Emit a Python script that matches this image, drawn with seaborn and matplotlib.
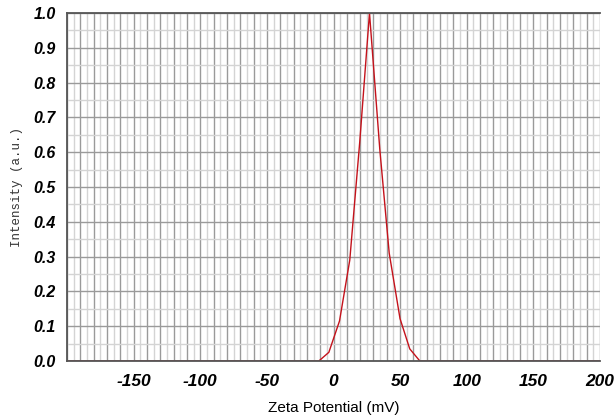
import pandas as pd
import matplotlib.pyplot as plt
import seaborn as sns
from matplotlib.ticker import MultipleLocator

# zeta potential distribution
zeta_mv = [-200, -11, -3.5, 4.5, 12.2, 19.7, 27.0, 34.7, 41.8, 49.9, 57.2, 64.8, 200]
intensity = [0.0, 0.0, 0.025, 0.115, 0.29, 0.63, 1.0, 0.61, 0.31, 0.122, 0.035, 0.0, 0.0]

df = pd.DataFrame({"zeta": zeta_mv, "intensity": intensity})

sns.set_style("white")

fig = plt.figure(figsize=(6.15, 4.19), dpi=100)
ax = fig.add_axes([0.109, 0.1384, 0.8666, 0.8306])

sns.lineplot(data=df, x="zeta", y="intensity", color="#c4121b", linewidth=1.0, ax=ax, zorder=2)

ax.set_xlim(-200, 200)
ax.set_ylim(0, 1.0)

ax.xaxis.set_major_locator(MultipleLocator(50))
ax.xaxis.set_minor_locator(MultipleLocator(5))
ax.yaxis.set_major_locator(MultipleLocator(0.1))
ax.yaxis.set_minor_locator(MultipleLocator(0.05))

# grid: darker every 10 mV / 0.1, lighter in between
for v in range(-200, 201, 5):
    c = "#9a9a9a" if v % 10 == 0 else "#d4d4d4"
    ax.axvline(v, color=c, linewidth=1.0, zorder=0)
for i in range(21):
    c = "#9a9a9a" if i % 2 == 0 else "#d4d4d4"
    ax.axhline(i * 0.05, color=c, linewidth=1.0, zorder=0)

xticks = [-150, -100, -50, 0, 50, 100, 150, 200]
ax.set_xticks(xticks)
ax.set_xticklabels([str(t) for t in xticks])
yticks = [0.0, 0.1, 0.2, 0.3, 0.4, 0.5, 0.6, 0.7, 0.8, 0.9, 1.0]
ax.set_yticks(yticks)
ax.set_yticklabels([f"{t:.1f}" for t in yticks])

ax.tick_params(axis="both", which="major", direction="out", length=6, width=1,
               color="#333333", labelcolor="black", pad=2)
ax.tick_params(axis="both", which="minor", direction="out", length=4, width=1,
               color="#333333")
ax.tick_params(axis="x", which="major", pad=3)

for lab in ax.get_xticklabels():
    lab.set_fontfamily("Liberation Sans")
    lab.set_fontweight("bold")
    lab.set_fontstyle("italic")
    lab.set_fontsize(12.5)
for lab in ax.get_yticklabels():
    lab.set_fontfamily("Liberation Sans")
    lab.set_fontweight("bold")
    lab.set_fontstyle("italic")
    lab.set_fontsize(11.5)

for side in ["left", "bottom", "top"]:
    ax.spines[side].set_color("#555555")
    ax.spines[side].set_linewidth(1.3)
    ax.spines[side].set_zorder(3)
ax.spines["right"].set_visible(False)

ax.set_xlabel("Zeta Potential (mV)", fontfamily="Liberation Sans", fontsize=11,
              color="black", labelpad=9)
ax.set_ylabel("Intensity (a.u.)", fontfamily="Liberation Mono", fontsize=9,
              color="#333333", labelpad=8)

fig.savefig("out.png", dpi=100)
